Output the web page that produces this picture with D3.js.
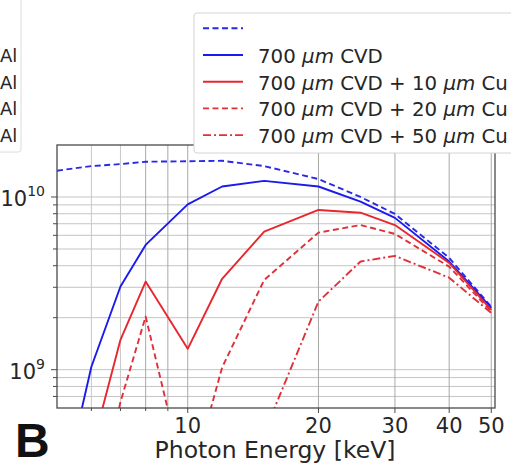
<!DOCTYPE html>
<html><head><meta charset="utf-8">
<script src="https://cdn.jsdelivr.net/npm/d3@7"></script>
<style>body{margin:0;background:#fff} svg{display:block}</style>
</head><body>
<script>
// ---- data ----
const energies = [5, 6, 7, 8, 10, 12, 15, 20, 25, 30, 40, 50];
const fluxNoWindow = [1.42e10, 1.51e10, 1.55e10, 1.60e10, 1.61e10, 1.62e10, 1.51e10, 1.27e10, 1.0e10, 7.98e9, 4.44e9, 2.31e9];
const flux700 = [1.4e8, 1.04e9, 3.03e9, 5.28e9, 9.07e9, 1.15e10, 1.24e10, 1.15e10, 9.4e9, 7.57e9, 4.23e9, 2.28e9];
const flux700Cu10 = [4e7, 3.4e8, 1.49e9, 3.24e9, 1.32e9, 3.36e9, 6.30e9, 8.41e9, 8.11e9, 6.88e9, 4.15e9, 2.22e9];
const flux700Cu20 = [1e7, 1.2e8, 6.5e8, 2.03e9, 1.95e8, 1.03e9, 3.31e9, 6.22e9, 6.88e9, 6.11e9, 3.95e9, 2.17e9];
const flux700Cu50 = [1e6, 1e7, 5e7, 2e8, 2e7, 1e8, 4.3e8, 2.48e9, 4.23e9, 4.56e9, 3.41e9, 2.13e9];
const legendLabels = ["", "700 μm CVD", "700 μm CVD + 10 μm Cu", "700 μm CVD + 20 μm Cu", "700 μm CVD + 50 μm Cu"];
const xTickLabels = [10, 20, 30, 40, 50];
const yTickLabels = [[1e9, "9"], [1e10, "10"]];
const xAxisTitle = "Photon Energy [keV]";
const panelLetter = "B";
const neighbourLegend = ["Al", "Al", "Al", "Al"];

// ---- drawing ----
const W = 511, H = 467;
const L = 57, R = 495, T = 145, B = 408;
const svg = d3.select("body").append("svg").attr("width", W).attr("height", H)
  .style("font-family", "'DejaVu Sans', sans-serif");

const x = d3.scaleLog().domain([5, 51]).range([L, R]);
const y = d3.scaleLog().domain([6e8, 2e10]).range([B, T]);

svg.append("defs").append("clipPath").attr("id", "plot")
  .append("rect").attr("x", L).attr("y", T).attr("width", R - L).attr("height", B - T);

// grid
const gx = x.ticks().filter(v => v > 5.01 && v < 50.9);
const gy = y.ticks().filter(v => v > 6.01e8 && v < 1.99e10);
svg.append("g").selectAll("line").data(gy).join("line")
  .attr("x1", L).attr("x2", R).attr("y1", d => y(d)).attr("y2", d => y(d))
  .attr("stroke", "#c4c4c4").attr("stroke-width", 1);
svg.append("g").selectAll("line").data(gx).join("line")
  .attr("y1", T).attr("y2", B).attr("x1", d => x(d)).attr("x2", d => x(d))
  .attr("stroke", d => d >= 8 ? "#a8a8a8" : "#c8c8c8").attr("stroke-width", 1);

// series
const series = [
  {values: fluxNoWindow, color: "#2a2ae6", dash: "6,3.5"},
  {values: flux700, color: "#1a1aee", dash: null},
  {values: flux700Cu10, color: "#e8262e", dash: null},
  {values: flux700Cu20, color: "#e0303a", dash: "6,3.5"},
  {values: flux700Cu50, color: "#e0303a", dash: "8,3,2,3"}
];
const line = d3.line().x(d => x(d[0])).y(d => y(d[1]));
const gl = svg.append("g").attr("clip-path", "url(#plot)");
series.forEach(s => {
  gl.append("path").datum(energies.map((e, i) => [e, s.values[i]]))
    .attr("d", line).attr("fill", "none").attr("stroke", s.color)
    .attr("stroke-width", 1.9).attr("stroke-dasharray", s.dash)
    .attr("stroke-linejoin", "round");
});

// spines
const sp = svg.append("g").attr("stroke", "#4a4a4a").attr("stroke-width", 1.3).attr("fill", "none");
sp.append("rect").attr("x", L).attr("y", T).attr("width", R - L).attr("height", B - T);

// ticks
svg.append("g").selectAll("line").data(x.ticks().filter(v => v > 5.01 && v < 50.9)).join("line")
  .attr("x1", d => x(d)).attr("x2", d => x(d)).attr("y1", B)
  .attr("y2", d => xTickLabels.includes(d) ? B + 5 : B + 3)
  .attr("stroke", "#4a4a4a").attr("stroke-width", 1);
svg.append("g").selectAll("line").data(y.ticks().filter(v => v > 6.01e8 && v < 1.99e10)).join("line")
  .attr("y1", d => y(d)).attr("y2", d => y(d)).attr("x1", L)
  .attr("x2", d => (d === 1e9 || d === 1e10) ? L - 6 : L - 4)
  .attr("stroke", "#4a4a4a").attr("stroke-width", 1);

// tick labels
svg.append("g").selectAll("text").data(xTickLabels).join("text")
  .attr("x", d => x(d)).attr("y", 432.5).attr("text-anchor", "middle")
  .attr("font-size", 21).attr("fill", "#262626").text(d => d);
const yl = svg.append("g").selectAll("text").data(yTickLabels).join("text")
  .attr("x", 45).attr("y", d => y(d[0]) + 9).attr("text-anchor", "end")
  .attr("font-size", 21).attr("fill", "#262626");
yl.append("tspan").text("10");
yl.append("tspan").attr("font-size", 14).attr("dy", -9.5).text(d => d[1]);

svg.append("text").attr("x", 275).attr("y", 458).attr("text-anchor", "middle")
  .attr("font-size", 23.5).attr("fill", "#262626").text(xAxisTitle);

svg.append("text").attr("x", 15).attr("y", 456.5).attr("font-family", "'Liberation Sans', Arial, sans-serif")
  .attr("font-weight", "bold").attr("font-size", 48).attr("fill", "#111").text(panelLetter);

// neighbouring panel legend fragment
svg.append("rect").attr("x", -20).attr("y", -20).attr("width", 41).attr("height", 172).attr("rx", 3)
  .attr("fill", "#fff").attr("stroke", "#dcdcdc").attr("stroke-width", 1);
svg.append("g").selectAll("text").data(neighbourLegend).join("text")
  .attr("x", 0).attr("y", (d, i) => 62 + i * 26.6).attr("font-size", 18).attr("fill", "#262626").text(d => d);

// legend
const lg = svg.append("g");
lg.append("rect").attr("x", 194).attr("y", 13).attr("width", 340).attr("height", 140).attr("rx", 3)
  .attr("fill", "#fff").attr("stroke", "#d4d4d4").attr("stroke-width", 1);
series.forEach((s, i) => {
  const yy = 28.3 + i * 26.7;
  lg.append("line").attr("x1", 203).attr("x2", 243).attr("y1", yy).attr("y2", yy)
    .attr("stroke", s.color).attr("stroke-width", 1.9).attr("stroke-dasharray", s.dash);
  const t = lg.append("text").attr("x", 258).attr("y", yy + 7.8).attr("font-size", 19.8).attr("fill", "#262626");
  legendLabels[i].split(/(μm)/).forEach(part => {
    if (!part) return;
    const ts = t.append("tspan").text(part);
    if (part === "μm") ts.attr("font-style", "italic");
  });
});
</script>
</body></html>
